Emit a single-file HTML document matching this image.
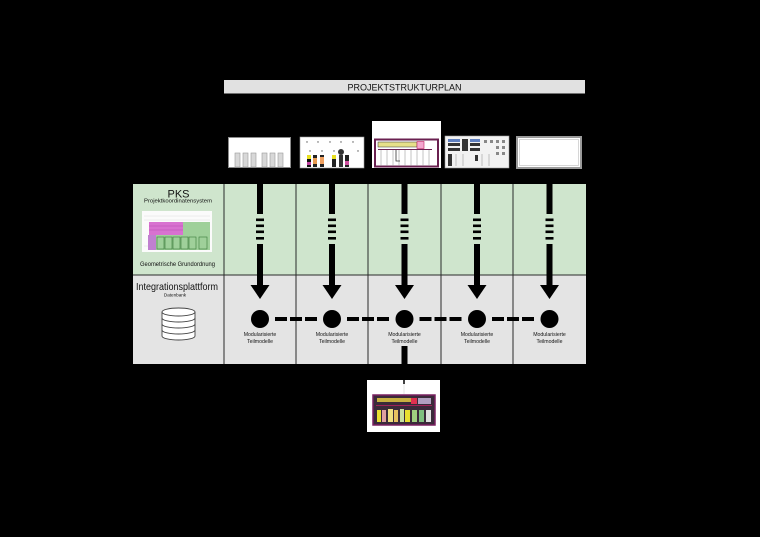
<!DOCTYPE html>
<html><head><meta charset="utf-8"><style>
html,body{margin:0;padding:0;background:#000;}
svg{display:block;}
text{font-family:"Liberation Sans",Arial,sans-serif;fill:#111;}
</style></head><body>
<svg width="760" height="537" viewBox="0 0 760 537" xmlns="http://www.w3.org/2000/svg">
<rect x="0" y="0" width="760" height="537" fill="#000"/>

<!-- Title bar -->
<rect x="224" y="80" width="361" height="13.5" fill="#e1e1e1"/>
<text x="404.5" y="90.5" font-size="9" text-anchor="middle">PROJEKTSTRUKTURPLAN</text>

<!-- Thumbnail 1 -->
<rect x="228.5" y="137.5" width="62" height="30" fill="#fff" stroke="#8a8a8a" stroke-width="1"/>
<g fill="#d8d8d8" stroke="#9a9a9a" stroke-width="0.6">
<rect x="235" y="153" width="5" height="14"/><rect x="243" y="153" width="5" height="14"/>
<rect x="251" y="153" width="5" height="14"/><rect x="262" y="153" width="5" height="14"/>
<rect x="270" y="153" width="5" height="14"/><rect x="278" y="153" width="5" height="14"/>
</g>

<!-- Thumbnail 2 -->
<rect x="300" y="137" width="64" height="31" fill="#fff" stroke="#999" stroke-width="0.6"/>
<g fill="#555">
<circle cx="307" cy="142" r="0.7"/><circle cx="318" cy="142" r="0.7"/><circle cx="330" cy="142" r="0.7"/><circle cx="341" cy="142" r="0.7"/><circle cx="353" cy="142" r="0.7"/>
<circle cx="310" cy="151" r="0.7"/><circle cx="322" cy="151" r="0.7"/><circle cx="334" cy="151" r="0.7"/><circle cx="358" cy="151" r="0.7"/>
</g>
<circle cx="341" cy="152" r="3" fill="#333"/>
<rect x="307" y="155" width="4" height="12" fill="#111"/><rect x="307" y="155" width="4" height="4" fill="#e8e020"/><rect x="307" y="162" width="4" height="3" fill="#c040a0"/>
<rect x="313" y="155" width="4" height="12" fill="#222"/><rect x="313" y="158" width="4" height="6" fill="#e89a50"/>
<rect x="320" y="155" width="4" height="12" fill="#222"/><rect x="320" y="157" width="4" height="7" fill="#f0a060"/>
<rect x="332" y="155" width="4" height="12" fill="#222"/><rect x="332" y="155" width="4" height="4" fill="#e8e020"/>
<rect x="339" y="155" width="4" height="12" fill="#333"/><rect x="345" y="155" width="4" height="12" fill="#222"/><rect x="345" y="161" width="4" height="4" fill="#d050a0"/>

<!-- Thumbnail 3 -->
<rect x="372" y="121" width="69" height="47" fill="#fff"/>
<rect x="375" y="139.5" width="63" height="27" fill="#fff" stroke="#6a2050" stroke-width="2"/>
<rect x="378" y="142" width="39" height="5" fill="#e6e08a" stroke="#333" stroke-width="0.5"/>
<rect x="417" y="141.5" width="7" height="7" fill="#f4a8d0" stroke="#c02060" stroke-width="0.6"/>
<g stroke="#888" stroke-width="0.5">
<line x1="381" y1="150" x2="381" y2="166"/><line x1="387" y1="150" x2="387" y2="166"/><line x1="393" y1="150" x2="393" y2="166"/>
<line x1="399" y1="150" x2="399" y2="166"/><line x1="405" y1="150" x2="405" y2="166"/><line x1="411" y1="150" x2="411" y2="166"/>
<line x1="417" y1="150" x2="417" y2="166"/><line x1="423" y1="150" x2="423" y2="166"/><line x1="429" y1="150" x2="429" y2="166"/>
</g>
<line x1="378" y1="149.5" x2="432" y2="149.5" stroke="#6a2050" stroke-width="1"/>
<path d="M396 150 L396 161 L400 161" stroke="#333" stroke-width="0.8" fill="none"/>

<!-- Thumbnail 4 -->
<rect x="445" y="136" width="64" height="32" fill="#f2f2f2" stroke="#999" stroke-width="0.6"/>
<rect x="448" y="139" width="12" height="3" fill="#6080c0"/><rect x="470" y="139" width="10" height="3" fill="#6080c0"/>
<g fill="#333">
<rect x="448" y="143" width="12" height="3"/><rect x="448" y="148" width="12" height="3"/>
<rect x="462" y="139" width="6" height="12"/><rect x="470" y="143" width="10" height="3"/><rect x="470" y="148" width="10" height="3"/>
<rect x="448" y="154" width="4" height="12"/><rect x="475" y="155" width="3" height="6"/>
</g>
<g fill="#888"><rect x="484" y="140" width="3" height="3"/><rect x="490" y="140" width="3" height="3"/><rect x="496" y="140" width="3" height="3"/><rect x="502" y="140" width="3" height="3"/>
<rect x="496" y="146" width="3" height="3"/><rect x="502" y="146" width="3" height="3"/><rect x="496" y="152" width="3" height="3"/><rect x="502" y="152" width="3" height="3"/></g>
<g stroke="#888" stroke-width="0.5"><line x1="456" y1="154" x2="456" y2="166"/><line x1="463" y1="154" x2="463" y2="166"/><line x1="482" y1="154" x2="482" y2="166"/><line x1="489" y1="154" x2="489" y2="166"/></g>

<!-- Thumbnail 5 -->
<rect x="517" y="137" width="64" height="31" fill="#fff" stroke="#9a9a9a" stroke-width="2"/>
<rect x="519.5" y="139.5" width="59" height="26" fill="#fff" stroke="#bbb" stroke-width="0.6"/>

<!-- Grid -->
<rect x="133" y="184" width="453" height="91" fill="#cfe5cd"/>
<rect x="133" y="275" width="453" height="89" fill="#e4e4e4"/>
<g stroke="#2a2a2a" stroke-width="1">
<line x1="133" y1="275" x2="586" y2="275"/>
<line x1="224" y1="184" x2="224" y2="364"/>
<line x1="296" y1="184" x2="296" y2="364"/>
<line x1="368" y1="184" x2="368" y2="364"/>
<line x1="441" y1="184" x2="441" y2="364"/>
<line x1="513" y1="184" x2="513" y2="364"/>
</g>

<!-- PKS cell -->
<text x="178.5" y="197.5" font-size="11" text-anchor="middle">PKS</text>
<text x="178" y="202.5" font-size="5.6" text-anchor="middle" textLength="68" lengthAdjust="spacingAndGlyphs">Projektkoordinatensystem</text>
<rect x="142" y="211" width="70" height="41" fill="#fbfbfb"/>
<g stroke="#d6d6d6" stroke-width="0.4">
<line x1="144" y1="216" x2="210" y2="216"/><line x1="144" y1="220" x2="210" y2="220"/>
<line x1="144" y1="246" x2="210" y2="246"/>
</g>
<rect x="183" y="222" width="27" height="28" fill="#9fd09a"/>
<rect x="149" y="222" width="34" height="13" fill="#d872d0"/>
<rect x="156" y="235" width="54" height="15" fill="#9fd09a"/>
<rect x="148" y="235" width="8" height="15" fill="#c080d0"/>
<g stroke="#3a7a3a" stroke-width="0.6" fill="none">
<rect x="157" y="237" width="7" height="12"/><rect x="165" y="237" width="7" height="12"/><rect x="173" y="237" width="7" height="12"/>
<rect x="181" y="237" width="7" height="12"/><rect x="189" y="237" width="7" height="12"/><rect x="199" y="237" width="8" height="12"/>
</g>
<g stroke="#b040a8" stroke-width="0.4"><line x1="149" y1="226" x2="183" y2="226"/><line x1="149" y1="230" x2="183" y2="230"/></g>
<text x="177.5" y="266" font-size="6.2" text-anchor="middle" textLength="75" lengthAdjust="spacingAndGlyphs">Geometrische Grundordnung</text>

<!-- Integrationsplattform cell -->
<text x="136" y="290" font-size="10.5" textLength="82" lengthAdjust="spacingAndGlyphs">Integrationsplattform</text>
<text x="175" y="296.5" font-size="4.6" text-anchor="middle">Datenbank</text>
<g fill="#fff" stroke="#444" stroke-width="0.9">
<path d="M162 312 L162 336 A16.5 4 0 0 0 195 336 L195 312"/>
<ellipse cx="178.5" cy="312" rx="16.5" ry="4"/>
<path d="M162 318 A16.5 4 0 0 0 195 318" fill="none"/>
<path d="M162 324 A16.5 4 0 0 0 195 324" fill="none"/>
<path d="M162 330 A16.5 4 0 0 0 195 330" fill="none"/>
</g>

<!-- Arrows -->
<g fill="#000">
<g id="a1">
<rect x="257" y="184" width="6" height="30"/>
<rect x="256" y="218.5" width="8" height="2.6"/>
<rect x="256" y="224.5" width="8" height="2.6"/>
<rect x="256" y="230.5" width="8" height="2.6"/>
<rect x="256" y="237" width="8" height="2.6"/>
<rect x="257" y="244" width="6" height="42"/>
<polygon points="250.5,285 269.5,285 260,299"/>
</g>
<use href="#a1" x="72"/>
<use href="#a1" x="144.5"/>
<use href="#a1" x="217"/>
<use href="#a1" x="289.5"/>
</g>

<!-- Dashed connection -->
<g stroke="#000" stroke-width="4">
<line x1="275" y1="319" x2="317" y2="319" stroke-dasharray="12 3"/>
<line x1="347" y1="319" x2="389.5" y2="319" stroke-dasharray="12 3"/>
<line x1="419.5" y1="319" x2="462" y2="319" stroke-dasharray="12 3"/>
<line x1="492" y1="319" x2="534.5" y2="319" stroke-dasharray="12 3"/>
</g>
<rect x="401.5" y="346" width="6" height="18" fill="#000"/>
<g fill="#000">
<circle cx="260" cy="319" r="9"/><circle cx="332" cy="319" r="9"/><circle cx="404.5" cy="319" r="9"/>
<circle cx="477" cy="319" r="9"/><circle cx="549.5" cy="319" r="9"/>
</g>

<!-- Labels -->
<g font-size="5.2" text-anchor="middle">
<text x="260" y="336">Modularisierte</text><text x="260" y="343">Teilmodelle</text>
<text x="332" y="336">Modularisierte</text><text x="332" y="343">Teilmodelle</text>
<text x="404.5" y="336">Modularisierte</text><text x="404.5" y="343">Teilmodelle</text>
<text x="477" y="336">Modularisierte</text><text x="477" y="343">Teilmodelle</text>
<text x="549.5" y="336">Modularisierte</text><text x="549.5" y="343">Teilmodelle</text>
</g>

<!-- Bottom result image -->
<rect x="367" y="380" width="73" height="52" fill="#fff"/>
<line x1="404" y1="380" x2="404" y2="384" stroke="#000" stroke-width="1.5"/>
<line x1="404" y1="384" x2="404" y2="394" stroke="#ccc" stroke-width="0.5"/>
<rect x="373" y="395" width="62" height="30" fill="#3a2a3a" stroke="#7a2060" stroke-width="1.5"/>
<rect x="377" y="398" width="34" height="4" fill="#c8b040"/>
<rect x="411" y="398" width="6" height="6" fill="#e03050"/>
<rect x="418" y="398" width="13" height="6" fill="#b0a0c0"/>
<rect x="377" y="410" width="4" height="12" fill="#e8e030"/>
<rect x="382" y="410" width="4" height="12" fill="#e0a0a0"/>
<rect x="388" y="409" width="5" height="13" fill="#f0e080"/>
<rect x="394" y="410" width="4" height="12" fill="#e8c060"/>
<rect x="400" y="409" width="4" height="13" fill="#c8e0a0"/>
<rect x="405" y="410" width="5" height="12" fill="#e8e030"/>
<rect x="412" y="410" width="5" height="12" fill="#a0d080"/>
<rect x="419" y="410" width="5" height="12" fill="#80c080"/>
<rect x="426" y="410" width="5" height="12" fill="#e0e0e0"/>
<line x1="376" y1="405.5" x2="432" y2="405.5" stroke="#c02060" stroke-width="0.8"/>
</svg>
</body></html>
